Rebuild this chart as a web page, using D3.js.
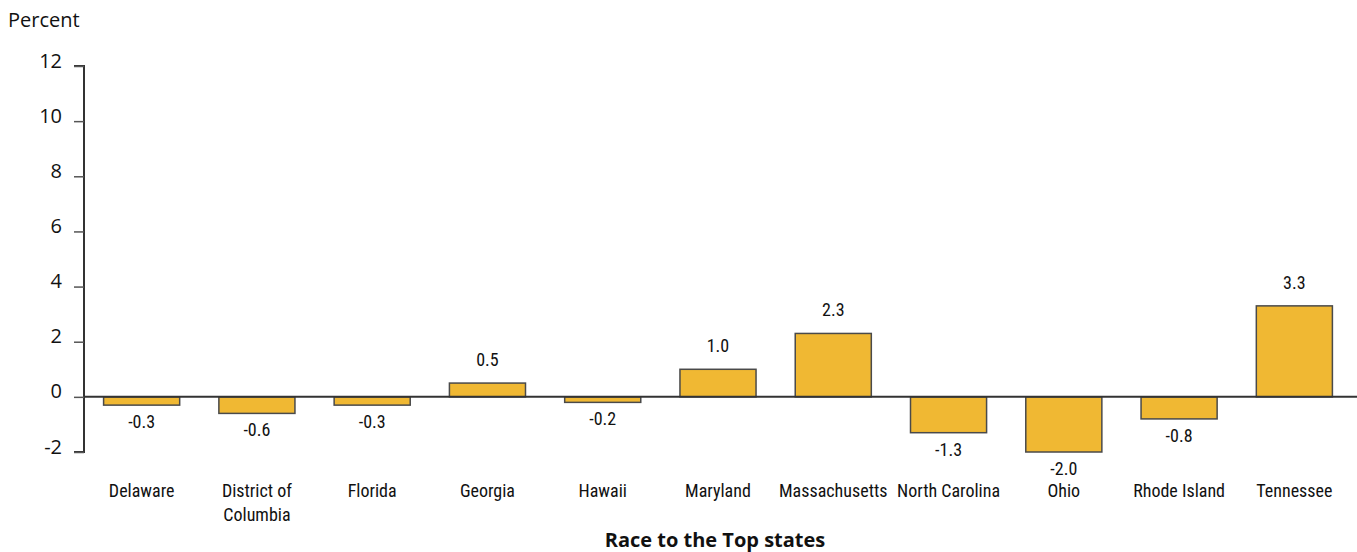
<!DOCTYPE html>
<html>
<head>
<meta charset="utf-8">
<script src="https://cdn.jsdelivr.net/npm/d3@7"></script>
<style>
  body { margin: 0; background: #fff; }
  .cond { font-family: "Liberation Sans Narrow", "Roboto Condensed", "Liberation Sans", sans-serif; }
</style>
</head>
<body>
<div id="viz"></div>
<script>
const states = ['Delaware', 'District of|Columbia', 'Florida', 'Georgia', 'Hawaii', 'Maryland',
  'Massachusetts', 'North Carolina', 'Ohio', 'Rhode Island', 'Tennessee'];
const values = [-0.3, -0.6, -0.3, 0.5, -0.2, 1.0, 2.3, -1.3, -2.0, -0.8, 3.3];
const yTicks = [-2, 0, 2, 4, 6, 8, 10, 12];

const width = 1357;
const height = 552;

const svg = d3.select('#viz')
  .append('svg')
  .attr('width', width)
  .attr('height', height);

const x = d3.scaleBand()
  .domain(states)
  .range([84, 1352])
  .paddingInner(0.34)
  .paddingOuter(0.17);

const y = d3.scaleLinear()
  .domain([-2, 12])
  .range([452, 66]);

// Y AXIS
const yAxis = svg.append('g')
  .attr('transform', 'translate(84,0)')
  .call(d3.axisLeft(y).tickValues(yTicks).tickSize(10).tickPadding(12).tickFormat(d => String(d)));
yAxis.select('.domain').attr('stroke', '#333').attr('stroke-width', 2).attr('d', 'M-10,66H0V452H-10');
yAxis.selectAll('.tick line').attr('stroke', '#555').attr('stroke-width', 1.5);
yAxis.selectAll('.tick text')
  .attr('font-family', '"Open Sans", "Noto Sans", sans-serif')
  .attr('font-size', '20px')
  .attr('fill', '#111')
  .attr('dy', '0.05em');

svg.append('text')
  .attr('x', 8)
  .attr('y', 27)
  .attr('font-family', '"Open Sans", "Noto Sans", sans-serif')
  .attr('font-size', '20px')
  .attr('fill', '#111')
  .text('Percent');

// BARS
svg.selectAll('rect.bar')
  .data(values)
  .join('rect')
  .attr('class', 'bar')
  .attr('x', (d, i) => x(states[i]))
  .attr('width', x.bandwidth())
  .attr('y', d => y(Math.max(0, d)))
  .attr('height', d => Math.abs(y(d) - y(0)))
  .attr('fill', '#F0B833')
  .attr('stroke', '#4a4a4a')
  .attr('stroke-width', 1.5);

// ZERO LINE
svg.append('line')
  .attr('x1', 84)
  .attr('x2', width)
  .attr('y1', y(0))
  .attr('y2', y(0))
  .attr('stroke', '#333')
  .attr('stroke-width', 2);

// VALUE LABELS
svg.selectAll('text.val')
  .data(values)
  .join('text')
  .attr('class', 'val cond')
  .attr('x', (d, i) => x(states[i]) + x.bandwidth() / 2)
  .attr('y', d => d >= 0 ? y(d) - 17 : y(d) + 23)
  .attr('text-anchor', 'middle')
  .attr('font-size', '18px')
  .attr('fill', '#111')
  .text(d => d.toFixed(1));

// CATEGORY LABELS
const cat = svg.selectAll('text.cat')
  .data(states)
  .join('text')
  .attr('class', 'cat cond')
  .attr('x', d => x(d) + x.bandwidth() / 2)
  .attr('y', 497)
  .attr('text-anchor', 'middle')
  .attr('font-size', '18px')
  .attr('fill', '#111');
cat.selectAll('tspan')
  .data(d => d.split('|'))
  .join('tspan')
  .attr('x', function () { return d3.select(this.parentNode).attr('x'); })
  .attr('dy', (d, i) => i === 0 ? 0 : 24)
  .text(d => d);

// TITLE
svg.append('text')
  .attr('x', 715)
  .attr('y', 547)
  .attr('text-anchor', 'middle')
  .attr('font-family', '"Open Sans", "Noto Sans", sans-serif')
  .attr('font-weight', 'bold')
  .attr('font-size', '20px')
  .attr('fill', '#111')
  .text('Race to the Top states');
</script>
</body>
</html>
